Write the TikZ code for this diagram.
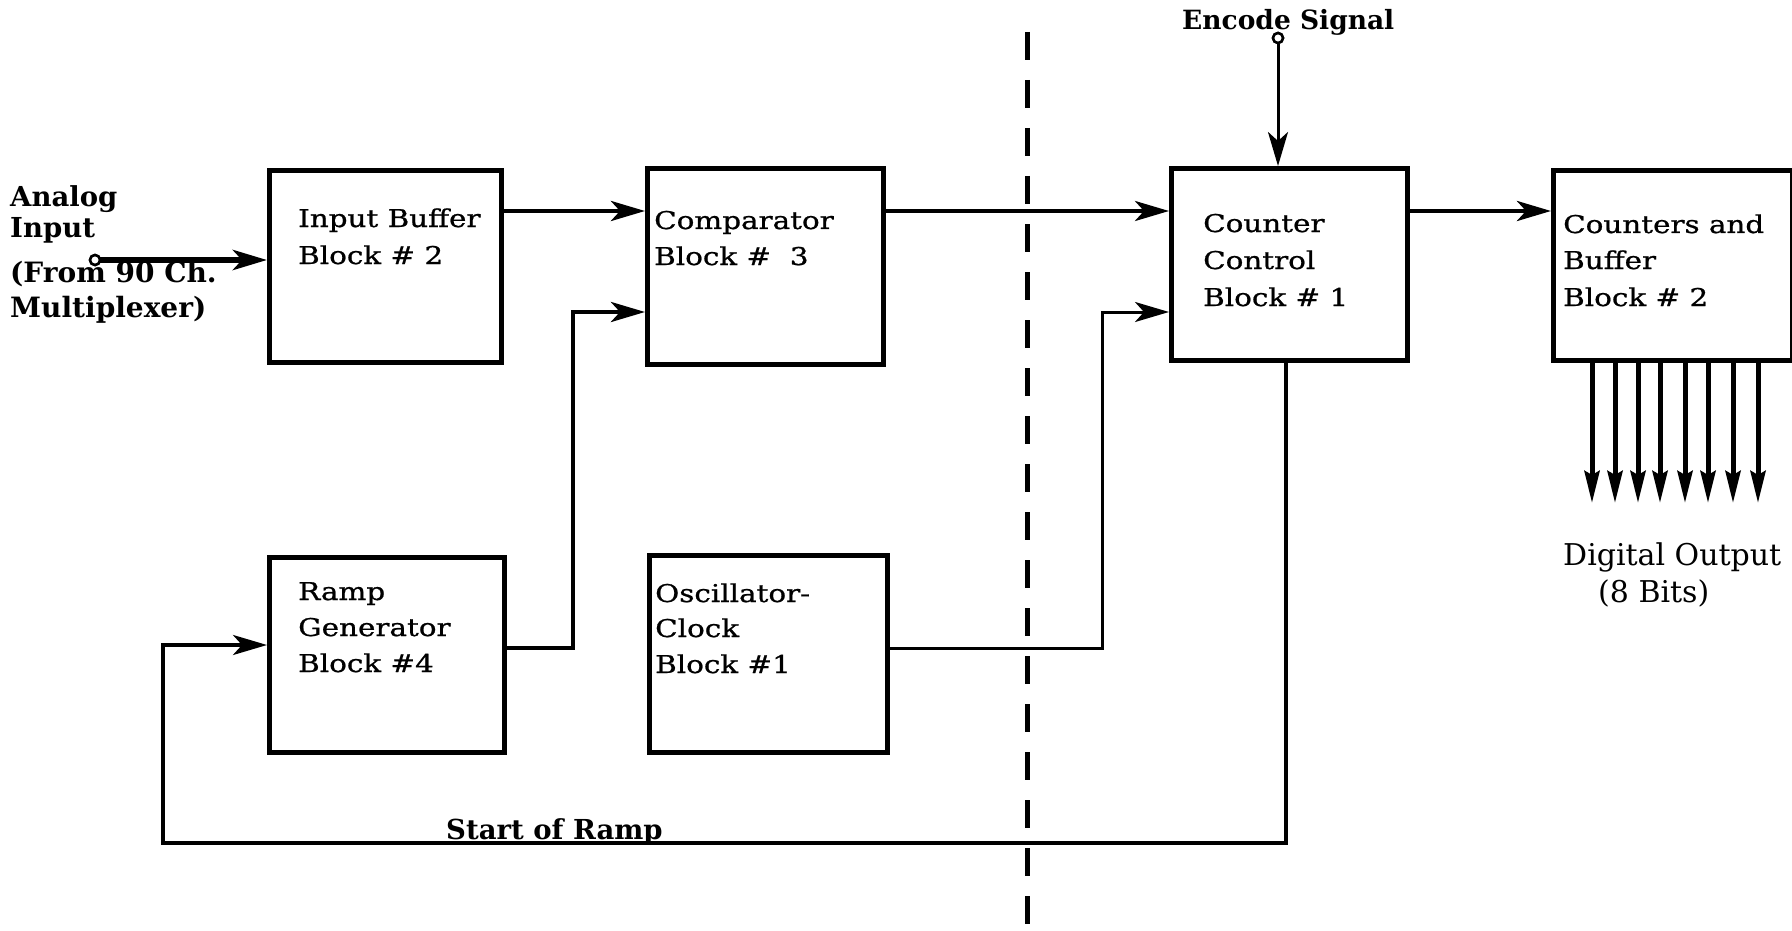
\documentclass[tikz,border=0pt]{standalone}
\usepackage{fontspec}
\setmainfont{DejaVu Serif}
\newfontfamily\boxfont[FakeStretch=1.2, FakeBold=0.8]{DejaVu Serif}
\newfontfamily\labfont{DejaVu Serif}
\usetikzlibrary{arrows.meta,calc}
\begin{document}
\begin{tikzpicture}[x=1pt,y=-1pt,
  box/.style={draw, line width=5pt, rectangle, inner sep=0pt, anchor=north west},
  btxt/.style={anchor=base west, inner sep=0pt, font=\boxfont\fontsize{24.5}{37}\selectfont},
  ltxt/.style={anchor=base west, inner sep=0pt, font=\labfont\bfseries\fontsize{27.5}{33}\selectfont},
  dtxt/.style={anchor=base west, inner sep=0pt, font=\labfont\fontsize{30}{36}\selectfont},
  tip/.style={-{Stealth[length=34pt,width=20pt,inset=9pt]}},
  conn/.style={line width=4.5pt, tip},
  thinconn/.style={line width=3pt, tip},
  outarr/.style={line width=5pt, -{Stealth[length=32pt,width=15pt,inset=4pt]}},
  term/.style={draw, circle, line width=2.5pt, minimum size=10pt, inner sep=0pt, fill=white},
  divider/.style={line width=5pt, dash pattern=on 28pt off 20pt}]
\useasboundingbox (0,0) rectangle (1792,931);

% dividing line
\draw[divider] (1027,32) -- (1027,931);

% blocks
\node[box, minimum width=232pt, minimum height=192pt] (ib)   at (267,168) {};
\node[box, minimum width=236pt, minimum height=196pt] (cmp)  at (645,166) {};
\node[box, minimum width=236pt, minimum height=192pt] (cc)   at (1169,166) {};
\node[box, minimum width=239pt, minimum height=190pt] (cb)   at (1551,168) {};
\node[box, minimum width=235pt, minimum height=195pt] (ramp) at (267,555) {};
\node[box, minimum width=238pt, minimum height=197pt] (osc)  at (647,553) {};

% block texts
\node[btxt] (ib1) at (298,227) {Input Buffer};
\node[btxt] (ib2) at (298,264) {Block \# 2};
\node[btxt] (cm1) at (654,229) {Comparator};
\node[btxt] (cm2) at (654,265) {Block \#\ \ 3};
\node[btxt] (cc1) at (1203,232) {Counter};
\node[btxt] (cc2) at (1203,269) {Control};
\node[btxt] (cc3) at (1203,306) {Block \# 1};
\node[btxt] (cb1) at (1563,233) {Counters and};
\node[btxt] (cb2) at (1563,269) {Buffer};
\node[btxt] (cb3) at (1563,306) {Block \# 2};
\node[btxt] (rg1) at (298,600) {Ramp};
\node[btxt] (rg2) at (298,636) {Generator};
\node[btxt] (rg3) at (298,672) {Block \#4};
\node[btxt] (os1) at (655,602) {Oscillator-};
\node[btxt] (os2) at (655,637) {Clock};
\node[btxt] (os3) at (655,673) {Block \#1};

% outside labels
\node[ltxt] (an1) at (10,207) {Analog};
\node[ltxt] (an2) at (10,237) {Input};
\node[ltxt, font=\labfont\bfseries\fontsize{28}{33}\selectfont] (an3) at (10,282) {(From 90 Ch.};
\node[ltxt, font=\labfont\bfseries\fontsize{28}{33}\selectfont] (an4) at (10,317) {Multiplexer)};
\node[ltxt, font=\labfont\bfseries\fontsize{26.5}{30}\selectfont] (enc) at (1182,30) {Encode Signal};
\node[ltxt] (sor) at (446,839) {Start of Ramp};
\node[dtxt] (do1) at (1563,565) {Digital Output};
\node[dtxt] (do2) at (1598,602) {(8 Bits)};

% terminals
\node[term] (ain) at (95,260) {};
\node[term] (ein) at (1278,38) {};

% connectors
\draw[conn, line width=6pt] (ain.center) -- (ain.center -| ib.west);
\draw[conn] (ib.east |- 0,211) -- (cmp.west |- 0,211);
\draw[conn] (ramp.east |- 0,648) -- (573,648) -- (573,312) -- (cmp.west |- 0,312);
\draw[conn, line width=4pt] (cmp.east |- 0,211) -- (cc.west |- 0,211);
\draw[thinconn] (osc.east |- 0,648) -- (1102,648) -- (1102,312) -- (cc.west |- 0,312);
\draw[conn] (cc.east |- 0,211) -- (cb.west |- 0,211);
\draw[thinconn] (ein.south) -- (ein.south |- cc.north);
\draw[thinconn, line width=3.5pt] (cc.south -| 1286,0) -- (1286,843) -- (163,843) -- (163,645) -- (ramp.west |- 0,645);
\node[term] at (95,260) {};
\node[term] at (1278,38) {};

% digital outputs
\foreach \x in {1592,1615,1638,1660,1685,1708,1733,1758}
  \draw[outarr] (cb.south -| \x,0) -- (\x,503);
\end{tikzpicture}
\end{document}
